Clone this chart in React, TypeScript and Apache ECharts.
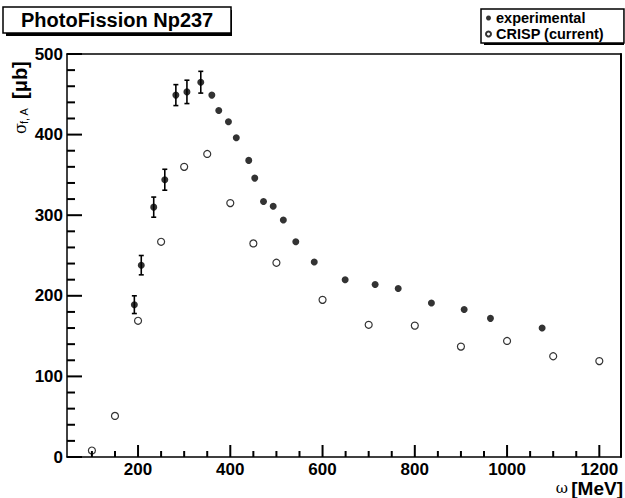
import React, { useEffect, useRef } from "react";
import * as echarts from "echarts";

// Experimental points (omega [MeV], sigma [µb], error)
const expX = [192, 207, 234, 258, 282, 306, 336, 360, 375, 396, 413, 440, 453, 472, 493, 515, 542, 582, 649, 714, 764, 836, 907, 964, 1076];
const expY = [189, 238, 310, 344, 449, 453, 465, 449, 430, 416, 396, 368, 346, 317, 311, 294, 267, 242, 220, 214, 209, 191, 183, 172, 160];
const expErr = [11, 12, 12.5, 13, 13, 14.5, 13.5, 0, 0, 0, 0, 0, 0, 0, 0, 0, 0, 0, 0, 0, 0, 0, 0, 0, 0];

// CRISP (current)
const crispX = [100, 150, 200, 250, 300, 350, 400, 450, 500, 600, 700, 800, 900, 1000, 1100, 1200];
const crispY = [8, 51, 169, 267, 360, 376, 315, 265, 241, 195, 164, 163, 137, 144, 125, 119];

// Axis ticks
const xMajorTicks = [200, 400, 600, 800, 1000, 1200];
const xMinorTicks = [100, 150, 250, 300, 350, 450, 500, 550, 650, 700, 750, 850, 900, 950, 1050, 1100, 1150];
const yMajorTicks = [0, 100, 200, 300, 400, 500];
const yMinorTicks = [20, 40, 60, 80, 120, 140, 160, 180, 220, 240, 260, 280, 320, 340, 360, 380, 420, 440, 460, 480];
const xMin = 46;
const xMax = 1247;
const yMin = 0;
const yMax = 500;
const yStep = 100;

const FONT = "'Liberation Sans', Arial, Helvetica, sans-serif";

function tickSeries(name: string, data: number[][], dx: number, dy: number, color: string, lw: number) {
  return {
    type: "custom",
    name,
    z: 6,
    xAxisIndex: 0,
    yAxisIndex: 0,
    encode: { x: 0, y: 1 },
    data,
    renderItem: (_p: any, api: any) => {
      const pt = api.coord([api.value(0), api.value(1)]);
      return {
        type: "group",
        children: [
          {
            type: "line",
            shape: { x1: pt[0], y1: pt[1], x2: pt[0] + dx, y2: pt[1] + dy },
            style: { stroke: color, lineWidth: lw },
          },
        ],
      };
    },
  };
}

export default function App() {
  const ref = useRef<HTMLDivElement>(null);

  useEffect(() => {
    if (!ref.current) return;
    const chart = echarts.init(ref.current, null, { renderer: "svg" });

    const option: any = {
      animation: false,
      backgroundColor: "#fff",
      title: {
        text: "PhotoFission Np237",
        left: 3,
        top: 7,
        padding: [3, 18, 3, 18],
        backgroundColor: "#fff",
        borderColor: "#000",
        borderWidth: 1.5,
        textStyle: { fontFamily: FONT, fontSize: 20, fontWeight: "bold", color: "#000", lineHeight: 20 },
      },
      legend: {
        orient: "vertical",
        left: 481,
        top: 9,
        padding: [1, 20, 1, 4],
        itemGap: 0,
        itemWidth: 5,
        itemHeight: 5,
        selectedMode: false,
        backgroundColor: "#fff",
        borderColor: "#000",
        borderWidth: 1.5,
        textStyle: { fontFamily: FONT, fontSize: 14.5, fontWeight: "bold", color: "#000", lineHeight: 16 },
        data: [
          { name: "experimental", icon: "circle" },
          { name: "CRISP (current)", icon: "circle" },
        ],
      },
      grid: {
        left: 67,
        right: 4,
        top: 54,
        bottom: 41,
        show: false,
      },
      xAxis: [
        {
          type: "value",
          min: xMin,
          max: xMax,
          position: "bottom",
          axisLine: { show: true, onZero: false, lineStyle: { color: "#000", width: 1.5 } },
          axisTick: { show: false },
          axisLabel: {
            show: true,
            customValues: xMajorTicks,
            margin: 4,
            formatter: (v: number) => String(v),
            fontFamily: FONT,
            fontSize: 17,
            fontWeight: "bold",
            color: "#000",
          },
          splitLine: { show: false },
        },
        {
          type: "value",
          min: xMin,
          max: xMax,
          position: "top",
          axisLine: { show: true, onZero: false, lineStyle: { color: "#000", width: 1.5 } },
          axisTick: { show: false },
          axisLabel: { show: false },
          splitLine: { show: false },
        },
      ],
      yAxis: [
        {
          type: "value",
          min: yMin,
          max: yMax,
          interval: yStep,
          position: "left",
          axisLine: { show: true, onZero: false, lineStyle: { color: "#000", width: 1.5 } },
          axisTick: { show: false },
          axisLabel: { margin: 4, fontFamily: FONT, fontSize: 17, fontWeight: "bold", color: "#000" },
          splitLine: { show: false },
        },
        {
          type: "value",
          min: yMin,
          max: yMax,
          interval: yStep,
          position: "right",
          axisLine: { show: true, onZero: false, lineStyle: { color: "#000", width: 2 } },
          axisTick: { show: false },
          axisLabel: { show: false },
          splitLine: { show: false },
        },
      ],
      series: [
        tickSeries("xMajor", xMajorTicks.map((v) => [v, yMin]), 0, -12, "#000", 2),
        tickSeries("xMinor", xMinorTicks.map((v) => [v, yMin]), 0, -6, "#000", 2),
        tickSeries("yMajor", yMajorTicks.map((v) => [xMin, v]), 15, 0, "#000", 2),
        tickSeries("yMinor", yMinorTicks.map((v) => [xMin, v]), 8, 0, "#000", 2),
        {
          type: "custom",
          name: "errors",
          xAxisIndex: 0,
          yAxisIndex: 0,
          z: 1,
          encode: { x: 0, y: 1 },
          data: expX.map((x, i) => [x, expY[i], expErr[i]]),
          renderItem: (params: any, api: any) => {
            const x = api.value(0);
            const y = api.value(1);
            const e = api.value(2);
            if (!e) return null;
            const top = api.coord([x, y + e]);
            const bot = api.coord([x, y - e]);
            const w = 2.5;
            const st = { stroke: "#000", lineWidth: 1.6 };
            return {
              type: "group",
              children: [
                { type: "line", shape: { x1: top[0], y1: top[1], x2: bot[0], y2: bot[1] }, style: st },
                { type: "line", shape: { x1: top[0] - w, y1: top[1], x2: top[0] + w, y2: top[1] }, style: st },
                { type: "line", shape: { x1: bot[0] - w, y1: bot[1], x2: bot[0] + w, y2: bot[1] }, style: st },
              ],
            };
          },
        },
        {
          type: "scatter",
          name: "experimental",
          xAxisIndex: 0,
          yAxisIndex: 0,
          symbol: "circle",
          symbolSize: 7,
          z: 3,
          itemStyle: { color: "#000" },
          data: expX.map((x, i) => [x, expY[i]]),
        },
        {
          type: "scatter",
          name: "CRISP (current)",
          xAxisIndex: 0,
          yAxisIndex: 0,
          symbol: "circle",
          symbolSize: 7,
          z: 3,
          itemStyle: { color: "#fff", borderColor: "#000", borderWidth: 1.2 },
          data: crispX.map((x, i) => [x, crispY[i]]),
        },
      ],
      graphic: [
        // title shadow
        { type: "rect", z: -1, shape: { x: 6, y: 10, width: 226, height: 26 }, style: { fill: "#000" } },
        // legend shadow
        { type: "rect", z: -1, shape: { x: 484, y: 12, width: 140, height: 33 }, style: { fill: "#000" } },
        // y-axis title (rotated)
        {
          type: "group",
          x: 20,
          y: 134,
          rotation: Math.PI / 2,
          children: [
            { type: "text", x: 0, y: 0, style: { text: "σ", fontFamily: "'DejaVu Serif', serif", fontSize: 16, fill: "#000", align: "left", verticalAlign: "middle" } },
            { type: "text", x: 10, y: 4, style: { text: "f, A", fontFamily: FONT, fontSize: 11, fill: "#000", align: "left", verticalAlign: "middle" } },
            { type: "text", x: 35, y: 0, style: { text: "[μb]", fontFamily: FONT, fontSize: 20, fontWeight: "bold", fill: "#000", align: "left", verticalAlign: "middle" } },
          ],
        },
        // x-axis title
        {
          type: "text",
          x: 623,
          y: 488,
          style: {
            text: "{w|ω} {b|[MeV]}",
            align: "right",
            verticalAlign: "middle",
            rich: {
              w: { fontFamily: "'DejaVu Serif', serif", fontSize: 15, fill: "#000" },
              b: { fontFamily: FONT, fontSize: 19, fontWeight: "bold", fill: "#000" },
            },
          },
        },
      ],
    };

    chart.setOption(option);
    return () => chart.dispose();
  }, []);

  return <div ref={ref} style={{ position: "absolute", left: 0, top: 0, width: 625, height: 498 }} />;
}
